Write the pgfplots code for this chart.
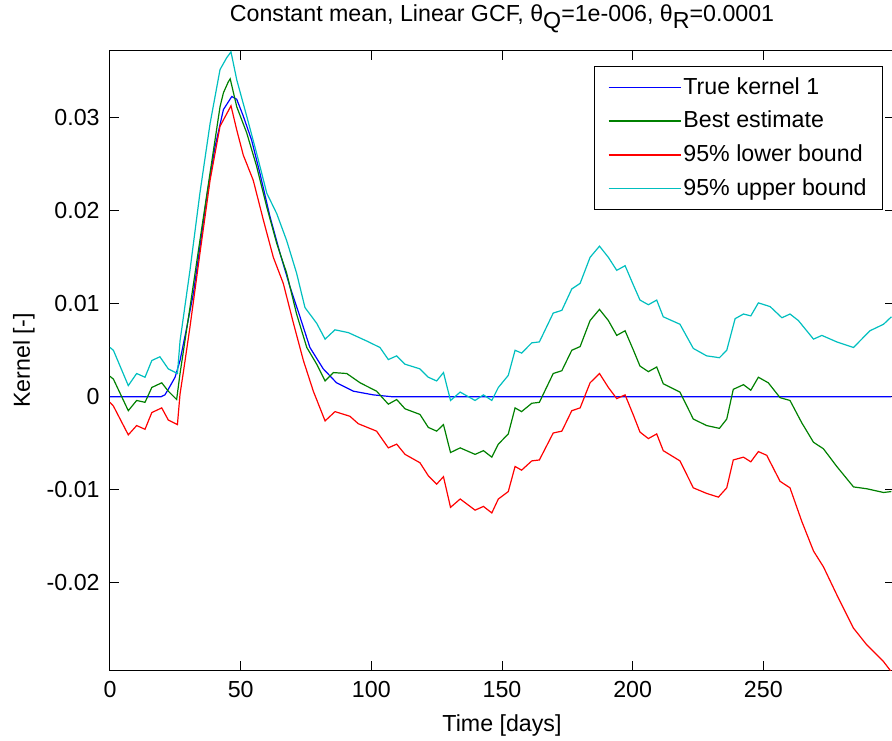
\documentclass[border=0pt]{standalone}
\usepackage{pgfplots}
\pgfplotsset{compat=1.18}
\usepackage{fontspec}
\setmainfont{Liberation Sans}
\definecolor{mblue}{rgb}{0,0,1}
\definecolor{mgreen}{rgb}{0,0.5,0}
\definecolor{mred}{rgb}{1,0,0}
\definecolor{mcyan}{rgb}{0,0.75,0.75}
\newcommand{\fs}{\fontsize{11.6}{14}\selectfont}
\begin{document}
\fs
\begin{tikzpicture}
\begin{axis}[
  scale only axis,
  width=392pt, height=309.5pt,
  xmin=0, xmax=300, ymin=-0.0294, ymax=0.0372,
  axis line style={line width=0.5pt},
  tick align=inside, tick style={black, line width=0.5pt},
  major tick length=4.5pt,
  xtick={0,50,100,150,200,250},
  xticklabels={0,50,100,150,200,250},
  ytick={-0.02,-0.01,0,0.01,0.02,0.03},
  yticklabels={-0.02,-0.01,0,0.01,0.02,0.03},
  scaled y ticks=false,
  xticklabel style={anchor=base, yshift=-13.6pt, font=\fs},
  yticklabel style={anchor=east, inner sep=0pt, xshift=-5pt, font=\fs},
  xlabel={Time [days]},
  ylabel={Kernel [-]},
  every axis x label/.style={at={(axis description cs:0.5,0)}, anchor=base, yshift=-30.7pt, font=\fs},
  every axis y label/.style={at={(axis description cs:-0.1097,0.5)}, anchor=center, rotate=90, font=\fs},
  title={Constant mean, Linear GCF, θ\raisebox{-0.5ex}{Q}=1e-006, θ\raisebox{-0.5ex}{R}=0.0001},
  every axis title/.style={at={(axis description cs:0.5,1)}, anchor=base, yshift=14.5pt, font=\fs},
  legend cell align=left,
  legend style={at={(axis description cs:1,1)}, anchor=north east, xshift=-5.5pt, yshift=-7.5pt,
    draw=black, font=\fs, row sep=4.7pt,
    inner xsep=7pt, inner ysep=4.5pt, nodes={inner xsep=1pt, inner ysep=1pt}},
  legend image code/.code={\draw[#1, line width=0.75pt] (0pt,0pt) -- (36pt,0pt);},
]
\addplot[draw=mblue, line width=0.6pt] coordinates {(0,0) (19.5,0) (21,0.0002) (22.3,0.0008) (24.9,0.0021) (26.8,0.0039) (29.4,0.0075) (31.9,0.0111) (34.4,0.0161) (37,0.0215) (40.2,0.0269) (43.4,0.0309) (46.6,0.0323) (48.5,0.0320) (51,0.0302) (54.2,0.0276) (57.4,0.0240) (61.2,0.0194) (65.1,0.0154) (68.9,0.0118) (72.7,0.0086) (76.5,0.0053) (81.6,0.0030) (86.7,0.0015) (93.1,0.0006) (100.8,0.0002) (108,0) (299,0)};
\addlegendentry{True kernel 1}
\addplot[draw=mgreen, line width=0.6pt] coordinates {(0,0.0022) (1.3,0.0019) (7,-0.0015) (10.2,-0.0004) (13.4,-0.0006) (16,0.0010) (19.8,0.0015) (22.3,0.0006) (25.5,-0.0003) (26.8,0.0025) (30.6,0.0096) (34.4,0.0168) (38.3,0.0241) (42.1,0.0312) (43.4,0.0327) (45.3,0.0339) (46,0.0342) (48.5,0.0312) (52.3,0.0284) (56.1,0.0248) (60,0.0204) (63.8,0.0165) (67.6,0.0133) (71.4,0.0089) (75.3,0.0053) (79.1,0.0035) (82.3,0.0017) (85.5,0.0026) (90.6,0.0025) (95.7,0.0015) (102,0.0006) (106.5,-0.0008) (109.7,-0.0003) (112.9,-0.0013) (118.6,-0.0019) (121.8,-0.0033) (125,-0.0037) (127.6,-0.0030) (130.3,-0.0060) (134,-0.0055) (139.7,-0.0062) (142.9,-0.0058) (146.1,-0.0065) (148.6,-0.0051) (152.4,-0.0040) (155,-0.0012) (157.5,-0.0016) (161.4,-0.0007) (164.3,-0.0006) (169.6,0.0025) (172.9,0.0028) (176.7,0.0050) (179.9,0.0054) (183.7,0.0082) (187.3,0.0094) (190.7,0.0082) (193.9,0.0066) (197.1,0.0071) (200.3,0.0050) (202.8,0.0033) (206,0.0027) (209.2,0.0032) (211.7,0.0014) (218.1,0.0005) (223.2,-0.0024) (228.3,-0.0031) (233.2,-0.0034) (236,-0.0024) (238.5,0.0008) (242.4,0.0013) (245.2,0.0007) (248.1,0.0021) (251.9,0.0015) (256.4,-0.0001) (260.2,-0.0004) (264.7,-0.0028) (269.2,-0.0049) (273,-0.0056) (278.1,-0.0075) (284.5,-0.0097) (289.6,-0.0099) (296,-0.0103) (299,-0.0102)};
\addlegendentry{Best estimate}
\addplot[draw=mred, line width=0.6pt] coordinates {(0,-0.0006) (1.3,-0.0010) (7,-0.0041) (10.2,-0.0031) (13.4,-0.0035) (16,-0.0017) (19.8,-0.0012) (22.3,-0.0025) (25.8,-0.0030) (26.8,0.0003) (28,0.0025) (30.6,0.0075) (34.4,0.0154) (38.3,0.0233) (42.1,0.0291) (46.3,0.0313) (48.5,0.0287) (51,0.0260) (54.8,0.0233) (58.7,0.0190) (62.5,0.0150) (66.3,0.0122) (70.2,0.0079) (74,0.0039) (77.8,0.0006) (82.3,-0.0026) (86.1,-0.0016) (91.8,-0.0021) (95,-0.0029) (102,-0.0037) (106.5,-0.0055) (109.7,-0.0051) (112.9,-0.0062) (118.6,-0.0071) (121.8,-0.0085) (125,-0.0094) (127.6,-0.0086) (130.3,-0.0119) (134,-0.0110) (139.7,-0.0122) (142.9,-0.0118) (146.1,-0.0125) (148.6,-0.0110) (152.4,-0.0102) (155,-0.0075) (157.5,-0.0079) (161.4,-0.0069) (164.3,-0.0068) (169.6,-0.0039) (172.9,-0.0037) (176.7,-0.0015) (179.9,-0.0012) (183.7,0.0015) (187.3,0.0025) (190.7,0.0010) (193.9,-0.0002) (197.1,0.0002) (200.3,-0.0020) (202.8,-0.0038) (206,-0.0045) (209.2,-0.0040) (211.7,-0.0058) (218.1,-0.0069) (223.2,-0.0098) (228.3,-0.0104) (232.8,-0.0108) (236,-0.0098) (238.5,-0.0068) (242.4,-0.0065) (245.2,-0.0070) (248.1,-0.0059) (251.3,-0.0063) (256.4,-0.0091) (260.2,-0.0098) (264.7,-0.0134) (269.2,-0.0166) (273,-0.0183) (278.1,-0.0213) (284.5,-0.0249) (289.6,-0.0267) (296,-0.0285) (299,-0.0296)};
\addlegendentry{95\% lower bound}
\addplot[draw=mcyan, line width=0.6pt] coordinates {(0,0.0053) (1.3,0.0050) (7,0.0012) (10.2,0.0025) (13.4,0.0021) (16,0.0039) (19.1,0.0043) (22.3,0.0030) (25.8,0.0025) (26.8,0.0060) (30.6,0.0136) (34.4,0.0219) (38.3,0.0294) (42.1,0.0352) (44.7,0.0365) (46.3,0.0371) (48.5,0.0341) (52.3,0.0302) (56.1,0.0262) (60,0.0219) (63.8,0.0197) (67.6,0.0168) (71.4,0.0133) (74.6,0.0096) (79.1,0.0079) (82.3,0.0062) (86.1,0.0072) (91.2,0.0069) (98.2,0.0060) (103.3,0.0053) (106.5,0.0040) (109.7,0.0044) (112.9,0.0035) (118.6,0.0030) (121.8,0.0021) (125,0.0017) (127.6,0.0026) (130.3,-0.0004) (134,0.0005) (139.7,-0.0004) (142.9,0.0002) (146.1,-0.0004) (148.6,0.0010) (152.4,0.0023) (155,0.0050) (157.5,0.0047) (161.4,0.0058) (164.3,0.0059) (169.6,0.0090) (172.9,0.0093) (176.7,0.0116) (179.9,0.0122) (183.7,0.0150) (187.3,0.0162) (190.7,0.0150) (193.9,0.0136) (197.1,0.0141) (200.3,0.0120) (202.8,0.0104) (206,0.0099) (209.2,0.0104) (211.7,0.0086) (218.1,0.0078) (223.2,0.0052) (228.3,0.0044) (233.2,0.0042) (236,0.0050) (239.2,0.0084) (242.4,0.0089) (245.2,0.0087) (248.1,0.0101) (252.6,0.0097) (257.1,0.0085) (260.2,0.0089) (263.4,0.0082) (269.2,0.0062) (272.4,0.0066) (278.1,0.0059) (284.5,0.0053) (290.8,0.0071) (296,0.0078) (299,0.0086)};
\addlegendentry{95\% upper bound}
\end{axis}
\pgfresetboundingbox
\path (current axis.south west) ++(-55pt,-35pt) rectangle ++(446pt,370pt);
\end{tikzpicture}
\end{document}
